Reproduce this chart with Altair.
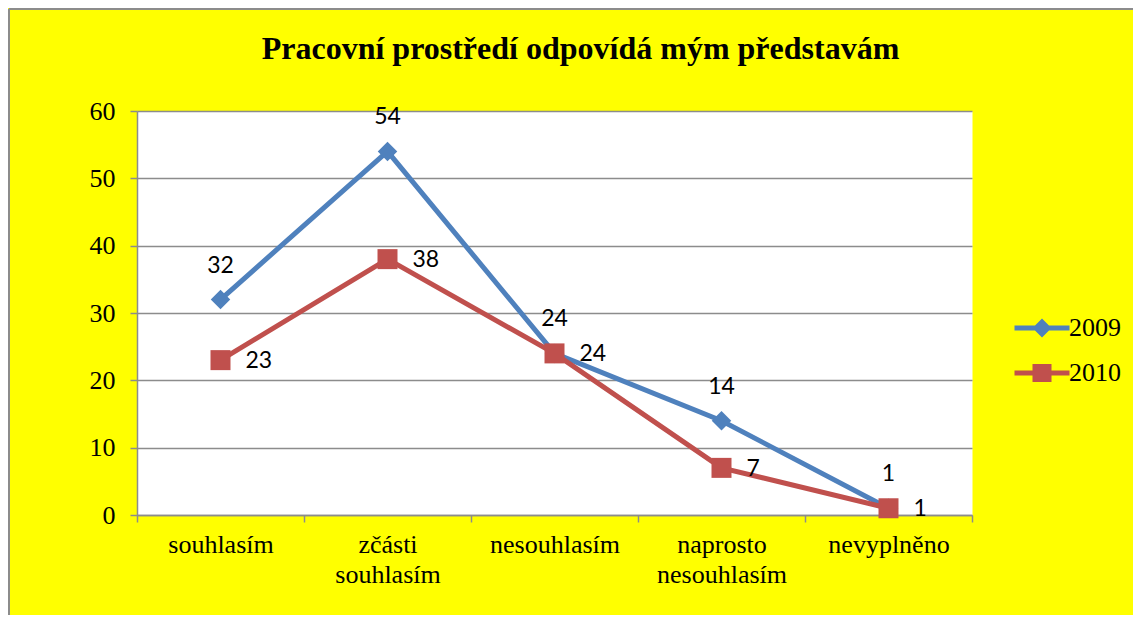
import altair as alt
import pandas as pd

categories = ["souhlasím", "zčásti souhlasím", "nesouhlasím", "naprosto nesouhlasím", "nevyplněno"]
series_names = ["2009", "2010"]
values_2009 = [32, 54, 24, 14, 1]
values_2010 = [23, 38, 24, 7, 1]
y_ticks = [0, 10, 20, 30, 40, 50, 60]
title_text = "Pracovní prostředí odpovídá mým představám"

rows = []
for s, vals in zip(series_names, [values_2009, values_2010]):
    for c, v in zip(categories, vals):
        rows.append({"kategorie": c, "rok": s, "hodnota": v, "legenda": s})
df = pd.DataFrame(rows)

BLUE = "#4F81BD"
RED = "#C0504D"
GRID = "#8C8C8C"
SERIF = "Liberation Serif"
SANS = "Lato"

path09 = "M-2.75,-0.25L2.75,-0.25L2.75,0.25L-2.75,0.25Z M0,-0.95L0.95,0L0,0.95L-0.95,0Z"
path10 = "M-2.75,-0.25L2.75,-0.25L2.75,0.25L-2.75,0.25Z M-0.95,-0.9L0.95,-0.9L0.95,0.9L-0.95,0.9Z"

x = alt.X(
    "kategorie:N",
    sort=categories,
    title=None,
    scale=alt.Scale(type="band", paddingInner=0, paddingOuter=0),
    axis=alt.Axis(
        tickBand="extent",
        tickSize=7,
        tickColor=GRID,
        tickWidth=1.5,
        domainColor=GRID,
        domainWidth=1.5,
        labelFont=SERIF,
        labelFontSize=26,
        labelColor="black",
        labelAngle=0,
        labelPadding=9,
        labelLineHeight=30,
        labelExpr="split(datum.label, ' ')",
        grid=False,
    ),
)
y = alt.Y(
    "hodnota:Q",
    title=None,
    scale=alt.Scale(domain=[0, 60], nice=False),
    axis=alt.Axis(
        values=y_ticks,
        tickSize=7,
        tickColor=GRID,
        tickWidth=1.5,
        domainColor=GRID,
        domainWidth=1.5,
        gridColor=GRID,
        gridWidth=1.5,
        labelFont=SERIF,
        labelFontSize=26,
        labelColor="black",
        labelPadding=15,
    ),
)
color = alt.Color("rok:N", scale=alt.Scale(domain=series_names, range=[BLUE, RED]), legend=None)

base = alt.Chart(df)

lines = base.mark_line(strokeWidth=5).encode(x=x, y=y, color=color, order=alt.Order("rok:N"))
points = base.mark_point(filled=True, opacity=1, strokeWidth=0).encode(
    x=x,
    y=y,
    color=color,
    shape=alt.Shape("rok:N", scale=alt.Scale(domain=series_names, range=["diamond", "square"]), legend=None),
    size=alt.Size("rok:N", scale=alt.Scale(domain=series_names, range=[380, 400]), legend=None),
)
labels09 = base.transform_filter(alt.datum.rok == "2009").mark_text(
    font=SANS, fontSize=23, color="black", align="center", baseline="alphabetic", dy=-27
).encode(x=x, y=y, text="hodnota:Q")
labels10 = base.transform_filter(alt.datum.rok == "2010").mark_text(
    font=SANS, fontSize=23, color="black", align="left", baseline="alphabetic", dx=25, dy=8
).encode(x=x, y=y, text="hodnota:Q")

leg = alt.Legend(
    orient="none",
    legendX=892,
    legendY=204,
    title=None,
    labelFont=SERIF,
    labelFontSize=26,
    labelColor="black",
    symbolSize=400,
    symbolStrokeWidth=0,
    symbolOpacity=1,
    rowPadding=19,
    labelOffset=14,
    padding=0,
)
legend_layer = base.transform_filter(alt.datum.kategorie == "souhlasím").mark_point(filled=True, opacity=0).encode(
    x=x,
    y=y,
    color=alt.Color("legenda:N", scale=alt.Scale(domain=series_names, range=[BLUE, RED]), legend=leg),
    shape=alt.Shape("legenda:N", scale=alt.Scale(domain=series_names, range=[path09, path10]), legend=leg),
)

border_left = base.mark_rule(color="#8C8C8C", strokeWidth=2).encode(
    x=alt.value(-128), y=alt.value(-102), y2=alt.value(508)
)
border_top = base.mark_rule(color="#8C8C8C", strokeWidth=2).encode(
    x=alt.value(-128), x2=alt.value(996), y=alt.value(-102)
)

chart = (
    alt.layer(lines, points, labels09, labels10, legend_layer, border_left, border_top)
    .resolve_scale(color="independent", shape="independent", size="independent")
    .properties(
        width=835,
        height=404,
        autosize=alt.AutoSizeParams(type="none"),
        padding={"left": 129, "top": 103, "right": 161, "bottom": 100},
        background="#FFFF00",
        title=alt.Title(
            title_text,
            font=SERIF,
            fontSize=32,
            fontWeight="bold",
            color="black",
            anchor="middle",
            frame="group",
            dx=26,
            offset=0,
            dy=58,
        ),
    )
    .configure_view(fill="white", stroke="transparent")
)

chart.save("out.html", embed_options={"renderer": "svg", "actions": False})
